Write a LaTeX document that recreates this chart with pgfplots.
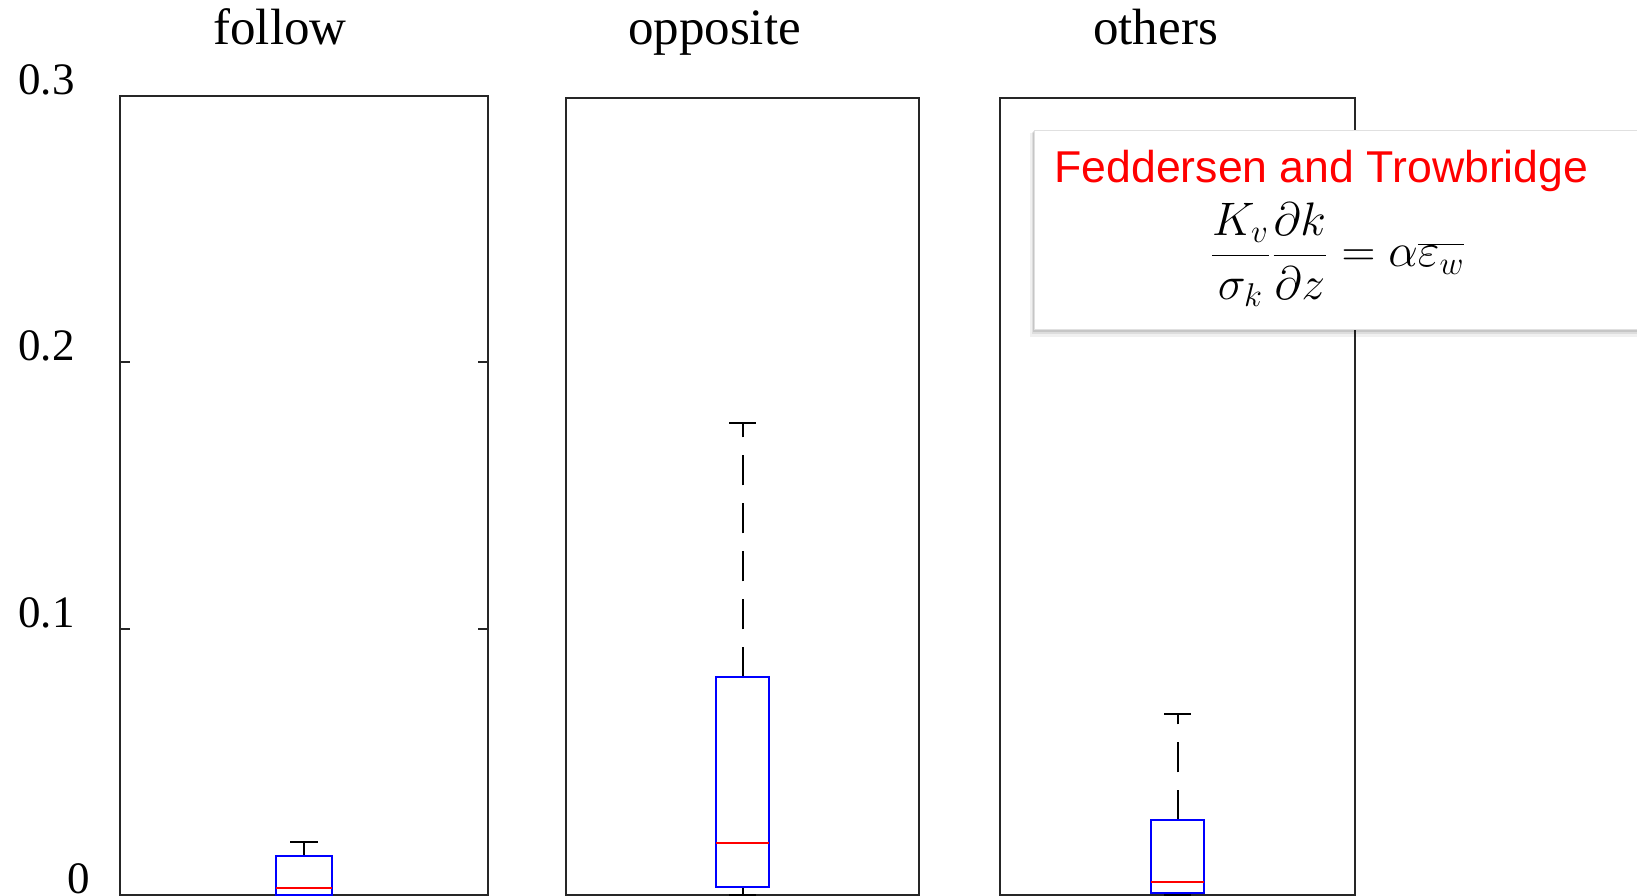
\documentclass[border=0pt]{standalone}
\usepackage{fix-cm}
\usepackage{pgfplots}
\pgfplotsset{compat=1.18}
\usepgfplotslibrary{statistics}
\usetikzlibrary{shadows}
\usepackage{fontspec}
\setmainfont{Liberation Serif}
\newfontfamily\legfont{Liberation Sans}
\definecolor{axgray}{HTML}{262626}
\definecolor{mblue}{HTML}{0000FF}
\definecolor{mred}{HTML}{FF0000}

\pgfplotsset{
  boxplot/draw/whisker/.code 2 args={%
    \draw[black, line width=1pt, dash pattern=on 15pt off 9pt]
      (boxplot whisker cs:#1,0.5) -- (boxplot whisker cs:#2,0.5);
    \draw[black, line width=1pt]
      (boxplot whisker cs:#2,0) -- (boxplot whisker cs:#2,1);
  },
  panel/.style={
    anchor=south west, scale only axis,
    xmin=0, xmax=2, ymin=0,
    xtick=\empty,
    boxplot/draw direction=y,
    axis line style={draw=axgray, line width=1pt},
    every tick/.style={draw=axgray, line width=1pt},
    tick align=inside, major tick length=5pt,
    /pgf/number format/assume math mode=true,
    every axis title shift=0pt,
    title style={at={(0.5,1)}, anchor=base, inner sep=0pt,
      font=\fontsize{25.5}{30}\selectfont},
    boxplot/every box/.style={draw=mblue, line width=1pt},
    boxplot/every median/.style={draw=mred, line width=1pt},
  },
}

\begin{document}
\begin{tikzpicture}[x=0.5pt, y=0.5pt]
\useasboundingbox (0,0) rectangle (1637,895);

% panel 1: follow
\begin{axis}[panel, at={(60pt,0pt)}, width=184pt, height=399.5pt, ymax=0.3,
  ytick={0.1,0.2,0.3}, ytick pos=both, yticklabel pos=left,
  yticklabel style={font=\fontsize{22.5}{26}\selectfont, anchor=east,
    inner sep=0pt, xshift=-22.5pt, yshift=8pt},
  extra y ticks={0},
  extra y tick style={yticklabel style={xshift=7.5pt}},
  title={follow}, title style={yshift=25.5pt, xshift=-12pt}]
\addplot[boxplot prepared={draw position=1,
  lower whisker=0, lower quartile=0, median=0.0025,
  upper quartile=0.0147, upper whisker=0.0199,
  box extend=0.3, whisker extend=0.15}] coordinates {};
\end{axis}

% panel 2: opposite
\begin{axis}[panel, at={(283pt,0pt)}, width=176.5pt, height=398.5pt, ymax=0.29925,
  ytick=\empty,
  title={opposite}, title style={yshift=26.5pt, xshift=-14pt}]
\addplot[boxplot prepared={draw position=1,
  lower whisker=0, lower quartile=0.0031, median=0.0194,
  upper quartile=0.0817, upper whisker=0.1771,
  box extend=0.3, whisker extend=0.15}] coordinates {};
\end{axis}

% panel 3: others
\begin{axis}[panel, at={(500pt,0pt)}, width=177.5pt, height=398.5pt, ymax=0.29925,
  ytick=\empty,
  title={others}, title style={yshift=26.5pt, xshift=-11pt}]
\addplot[boxplot prepared={draw position=1,
  lower whisker=0, lower quartile=0.0006, median=0.0049,
  upper quartile=0.0280, upper whisker=0.0681,
  box extend=0.3, whisker extend=0.15}] coordinates {};
\end{axis}

% annotation box
\fill[black, opacity=0.06] (1030,558) rectangle (1700,762);
\fill[black, opacity=0.08] (1032,561) rectangle (1700,763);
\fill[black, opacity=0.10] (1033,563) rectangle (1700,764);
\filldraw[fill=white, draw=black!12, line width=0.5pt] (1034,565) rectangle (1700,764.5);
\node[anchor=base west, inner sep=0pt, text=mred,
  font=\legfont\fontsize{22.3}{26}\selectfont] at (1054,712) {Feddersen and Trowbridge};
\node[anchor=base, inner sep=0pt, font=\fontsize{23.5}{26}\selectfont] at (1337,628)
  {$\displaystyle \frac{K_v}{\sigma_k}\frac{\partial k}{\partial z} = \alpha\overline{\varepsilon_w}$};
\end{tikzpicture}
\end{document}
